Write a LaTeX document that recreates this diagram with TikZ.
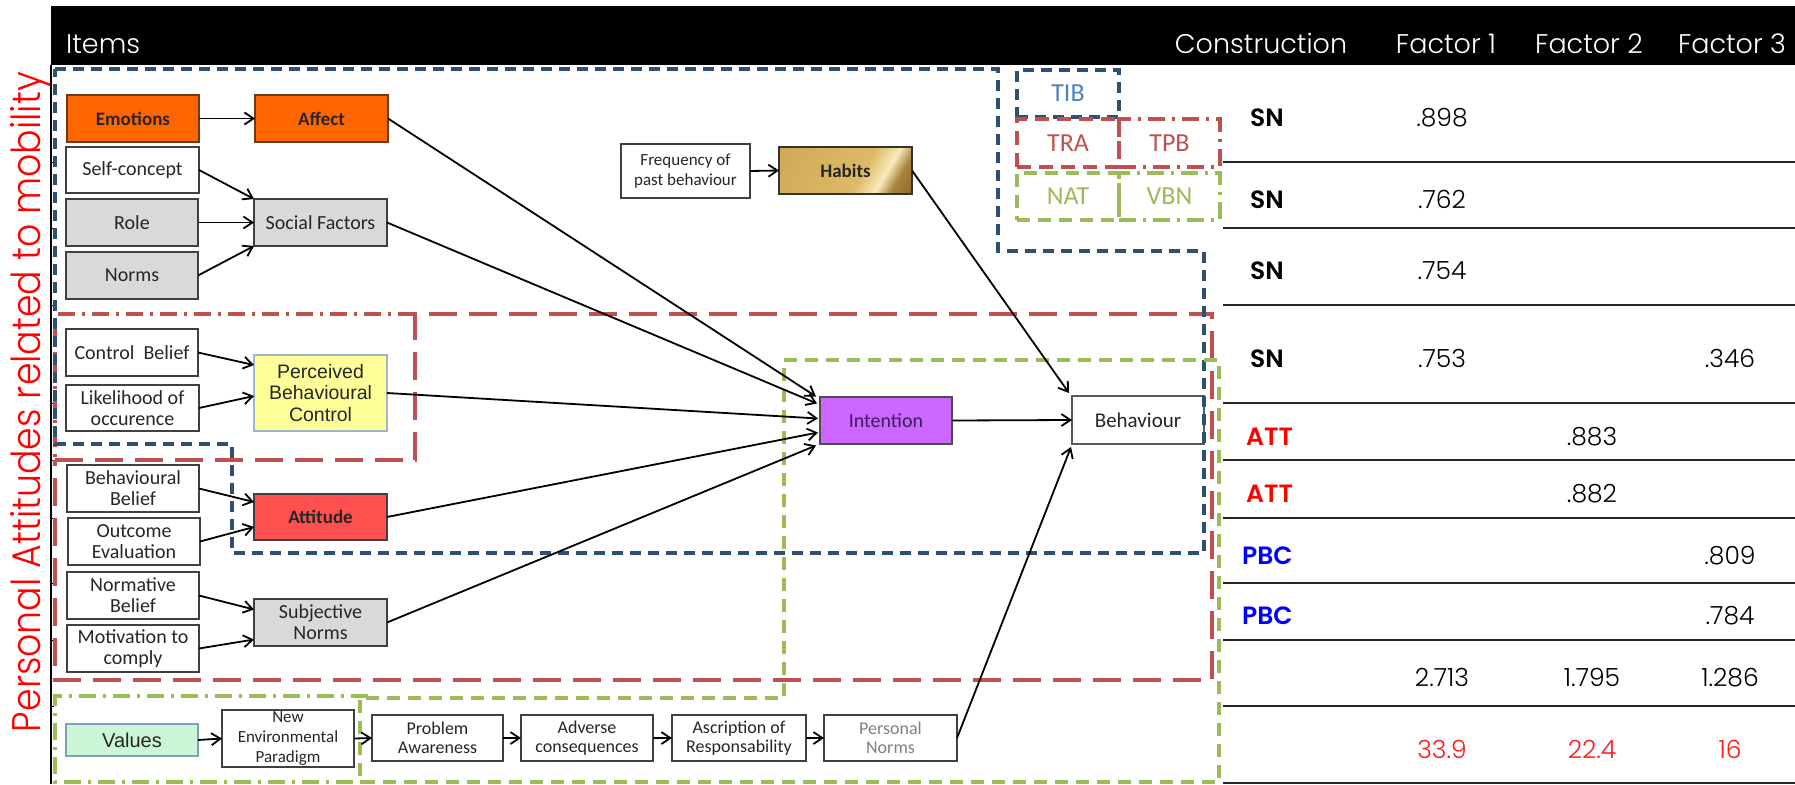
\documentclass[tikz,border=0pt]{standalone}
\usepackage{fontspec}
\usepackage{graphicx}
\setmainfont{Carlito}
\newfontfamily\gothic{Poppins Light}[BoldFont={Poppins SemiBold}]
\newfontfamily\arialf{Liberation Sans}
\usetikzlibrary{arrows.meta,calc}

\definecolor{tibblue}{HTML}{2F5073}
\definecolor{tibtext}{HTML}{4F81BD}
\definecolor{trared}{HTML}{C0504D}
\definecolor{natgreen}{HTML}{9BBB59}
\definecolor{emoorange}{HTML}{FF6600}
\definecolor{emoborder}{HTML}{6B3A1A}
\definecolor{boxgray}{HTML}{D9D9D9}
\definecolor{pbcyellow}{HTML}{FFFF99}
\definecolor{pbcborder}{HTML}{9DB7C9}
\definecolor{attred}{HTML}{FF4F4F}
\definecolor{intpurple}{HTML}{CC66FF}
\definecolor{inttext}{HTML}{3C1E5A}
\definecolor{valgreen}{HTML}{CCF7D6}
\definecolor{valborder}{HTML}{7F9FBF}
\definecolor{goldA}{HTML}{CBA24C}
\definecolor{goldA2}{HTML}{DDBA68}
\definecolor{goldB}{HTML}{F8EABA}
\definecolor{goldC}{HTML}{A7823A}
\definecolor{goldD}{HTML}{5C4314}
\definecolor{pctred}{HTML}{FF1A1A}
\definecolor{pbcblue}{HTML}{0000FF}

\pgfdeclarehorizontalshading{goldbar}{100bp}{color(0bp)=(goldA); color(58bp)=(goldA2); color(68bp)=(goldB); color(75bp)=(goldC); color(100bp)=(goldD)}

% box given by its top-left and bottom-right corners
\newcommand{\bxnode}[7]{\node[box,#6,minimum width={#4-#2},minimum height={#5-#3}] (#1) at (#2,#3) {#7};}

\begin{document}
\begin{tikzpicture}[x=1pt,y=-1pt,
  box/.style={rectangle, anchor=north west, inner sep=0pt, outer sep=0pt, align=center,
    line width=1.4pt, draw=black!75, fill=white, text=black!85, font=\fontsize{20}{21}\selectfont},
  orangebox/.style={fill=emoorange, draw=emoborder, font=\bfseries\fontsize{19}{21}\selectfont},
  graybox/.style={fill=boxgray},
  pbcbox/.style={fill=pbcyellow, draw=pbcborder, font=\arialf\fontsize{19.5}{21.5}\selectfont},
  attbox/.style={fill=attred, draw=black!75, font=\bfseries\fontsize{19}{21}\selectfont},
  intbox/.style={fill=intpurple, draw=black!70, text=inttext},
  habbox/.style={fill=none, shade, shading=goldbar, shading angle=-30, draw=black!80, font=\bfseries\fontsize{19}{21}\selectfont},
  valbox/.style={fill=valgreen, draw=valborder, font=\arialf\fontsize{20}{22}\selectfont},
  smallbox/.style={font=\fontsize{17}{20}\selectfont},
  chainbox/.style={font=\fontsize{18}{19}\selectfont},
  legbox/.style={fill=none, font=\fontsize{26}{28}\selectfont},
  tibframe/.style={draw=tibblue, line width=3.2pt, dash pattern=on 11pt off 7pt},
  traframe/.style={draw=trared, line width=3.2pt, dash pattern=on 28pt off 12pt},
  tpbframe/.style={draw=trared, line width=3.2pt, dash pattern=on 17pt off 7pt on 3pt off 7pt},
  natframe/.style={draw=natgreen, line width=3.2pt, dash pattern=on 13pt off 8pt},
  vbnframe/.style={draw=natgreen, line width=3.2pt, dash pattern=on 17pt off 7pt on 3pt off 7pt},
  arr/.style={draw=black, line width=1.8pt, -{Straight Barb[length=9pt,width=12pt]}},
  hdr/.style={inner sep=0pt, text=white, font=\gothic\fontsize{27}{30}\selectfont},
  num/.style={inner sep=0pt, anchor=base, font=\gothic\fontsize{25}{27}\selectfont},
  lab/.style={inner sep=0pt, anchor=base west, font=\gothic\bfseries\fontsize{25}{27}\selectfont},
  rule/.style={draw=black!85, line width=1.3pt}
]
\useasboundingbox (0,0) rectangle (1795,784);
\fill[white] (0,0) rectangle (1795,784);

% header band
\fill[black] (51,6) rectangle (1795,65);
\draw[line width=1.2pt] (51,65) -- (51,784);
\node[hdr, anchor=base west] (hitems) at (66,53) {Items};
\node[hdr, anchor=base] (hcons) at (1261,53) {Construction};
\node[hdr, anchor=base] (hf1) at (1446,53) {Factor 1};
\node[hdr, anchor=base] (hf2) at (1589,53) {Factor 2};
\node[hdr, anchor=base] (hf3) at (1732,53) {Factor 3};

% side title
\node[rotate=90, anchor=base, inner sep=0pt, text=red, font=\gothic\fontsize{40}{44}\selectfont] (side) at (40,402)
  {\resizebox{660pt}{\height}{Personal Attitudes related to mobility}};

% table rules
\foreach \yy in {162,228,305,403,460,518,583,640,706,783}
  \draw[rule] (1223,\yy) -- (1795,\yy);
\foreach \yy in {162,228,305,403,460,518,583,640,706}
  \draw[line width=1pt] (51,\yy) -- (54,\yy);

% table body
\node[lab] (r1) at (1250,126) {SN};
\node[lab] (r2) at (1250,208) {SN};
\node[lab] (r3) at (1250,279) {SN};
\node[lab] (r4) at (1250,367) {SN};
\node[lab, text=red] (r5) at (1246,445) {ATT};
\node[lab, text=red] (r6) at (1246,502) {ATT};
\node[lab, text=pbcblue] (r7) at (1242,564) {PBC};
\node[lab, text=pbcblue] (r8) at (1242,624) {PBC};
\node[num] (v11) at (1442,126) {.898};
\node[num] (v21) at (1442,208) {.762};
\node[num] (v31) at (1442,279) {.754};
\node[num] (v41) at (1442,367) {.753};
\node[num] (v43) at (1730,367) {.346};
\node[num] (v52) at (1592,445) {.883};
\node[num] (v62) at (1592,502) {.882};
\node[num] (v73) at (1730,564) {.809};
\node[num] (v83) at (1730,624) {.784};
\node[num] (e1) at (1442,686) {2.713};
\node[num] (e2) at (1592,686) {1.795};
\node[num] (e3) at (1730,686) {1.286};
\node[num, text=pctred] (p1) at (1442,758) {33.9};
\node[num, text=pctred] (p2) at (1592,758) {22.4};
\node[num, text=pctred] (p3) at (1730,758) {16};

% model boxes
\bxnode{emo}{67}{95}{199}{142}{orangebox}{Emotions}
\bxnode{aff}{255}{95}{388}{142}{orangebox}{Affect}
\bxnode{self}{66}{147}{199}{193}{}{Self-concept}
\bxnode{role}{66}{199}{198}{246}{graybox}{Role}
\bxnode{soc}{254}{199}{387}{246}{graybox}{Social Factors}
\bxnode{norms}{66}{252}{198}{299}{graybox}{Norms}
\bxnode{cb}{66}{329}{198}{376}{}{Control\ \ Belief}
\bxnode{lik}{66}{385}{199}{431}{}{Likelihood of\\occurence}
\bxnode{pbc}{254}{355}{387}{431}{pbcbox}{Perceived\\Behavioural\\Control}
\bxnode{bb}{67}{465}{199}{512}{}{Behavioural\\Belief}
\bxnode{oe}{68}{518}{200}{565}{}{Outcome\\Evaluation}
\bxnode{att}{254}{494}{387}{540}{attbox}{Attitude}
\bxnode{nb}{67}{572}{199}{619}{}{Normative\\Belief}
\bxnode{mot}{67}{625}{199}{672}{}{Motivation to\\comply}
\bxnode{sn}{254}{599}{387}{646}{graybox}{Subjective\\Norms}
\bxnode{freq}{621}{144}{750}{198}{smallbox}{Frequency of\\past behaviour}
\bxnode{hab}{779}{147}{912}{194}{habbox}{Habits}
\bxnode{int}{820}{397}{952}{444}{intbox}{Intention}
\bxnode{beh}{1072}{396}{1204}{444}{draw=black!65, font=\fontsize{21}{22}\selectfont}{Behaviour}
\bxnode{val}{66}{724}{198}{756}{valbox}{Values}
\bxnode{nep}{222}{710}{354}{767}{smallbox}{New\\Environmental\\Paradigm}
\bxnode{pa}{372}{715}{503}{761}{chainbox}{Problem\\Awareness}
\bxnode{ac}{521}{715}{653}{761}{chainbox}{Adverse\\consequences}
\bxnode{ar}{672}{715}{806}{761}{chainbox}{Ascription of\\Responsability}
\bxnode{pn}{824}{715}{957}{761}{chainbox, text=black!50}{Personal\\Norms}

% theory legend
\bxnode{tib}{1017}{70}{1119}{117}{legbox, tibframe, text=tibtext}{TIB}
\bxnode{tra}{1017}{119}{1119}{167}{legbox, traframe, dash pattern=on 14pt off 8pt, text=trared}{TRA}
\bxnode{tpb}{1119}{119}{1220}{167}{legbox, tpbframe, text=trared}{TPB}
\bxnode{nat}{1017}{173}{1119}{220}{legbox, natframe, text=natgreen}{NAT}
\bxnode{vbn}{1119}{173}{1220}{220}{legbox, vbnframe, text=natgreen}{VBN}

% theory frames
\draw[tpbframe] (415,314) -- (55,314) -- (55,460);
\draw[traframe] (55,460) -- (415,460) -- (415,314) -- (1212,314) -- (1212,680) -- (55,680) -- cycle;
\draw[tibframe] (55,69) -- (998,69) -- (998,251) -- (1204,251) -- (1204,553) -- (232,553) -- (232,444) -- (55,444) -- cycle;
\draw[vbnframe] (368,696) -- (55,696) -- (55,782) -- (368,782);
\draw[natframe] (784,360) -- (1219,360) -- (1219,782) -- (360,782) -- (360,698) -- (784,698) -- cycle;

% connectors
\draw[arr] (emo.east) -- (aff.west);
\draw[arr] (self.east) -- (soc.north west);
\draw[arr] (role.east) -- (soc.west);
\draw[arr] (norms.east) -- (soc.south west);
\draw[arr] (aff.east) -- ([xshift=-4pt,yshift=24pt]int.west);
\draw[arr] (soc.east) -- ([xshift=-3pt,yshift=17pt]int.west);
\draw[arr] (cb.east) -- ([yshift=28pt]pbc.west);
\draw[arr] (lik.east) -- ([yshift=-3pt]pbc.west);
\draw[arr] (pbc.east) -- ([xshift=-2pt,yshift=2pt]int.west);
\draw[arr] (bb.east) -- ([yshift=15pt]att.west);
\draw[arr] (oe.east) -- ([yshift=-10pt]att.west);
\draw[arr] (att.east) -- ([xshift=-2pt,yshift=-12pt]int.west);
\draw[arr] (nb.east) -- ([yshift=13pt]sn.west);
\draw[arr] (mot.east) -- ([yshift=-17pt]sn.west);
\draw[arr] (sn.east) -- ([xshift=-4pt,yshift=-25pt]int.west);
\draw[arr] (freq.east) -- (hab.west);
\draw[arr] (int.east) -- (beh.west);
\draw[arr] (hab.east) -- ([xshift=-3pt,yshift=27pt]beh.west);
\draw[arr] (pn.east) -- ([xshift=-1pt,yshift=-3pt]beh.south west);
\draw[arr] (val.east) -- (nep.west);
\draw[arr] (nep.east) -- (pa.west);
\draw[arr] (pa.east) -- (ac.west);
\draw[arr] (ac.east) -- (ar.west);
\draw[arr] (ar.east) -- (pn.west);
\end{tikzpicture}
\end{document}
